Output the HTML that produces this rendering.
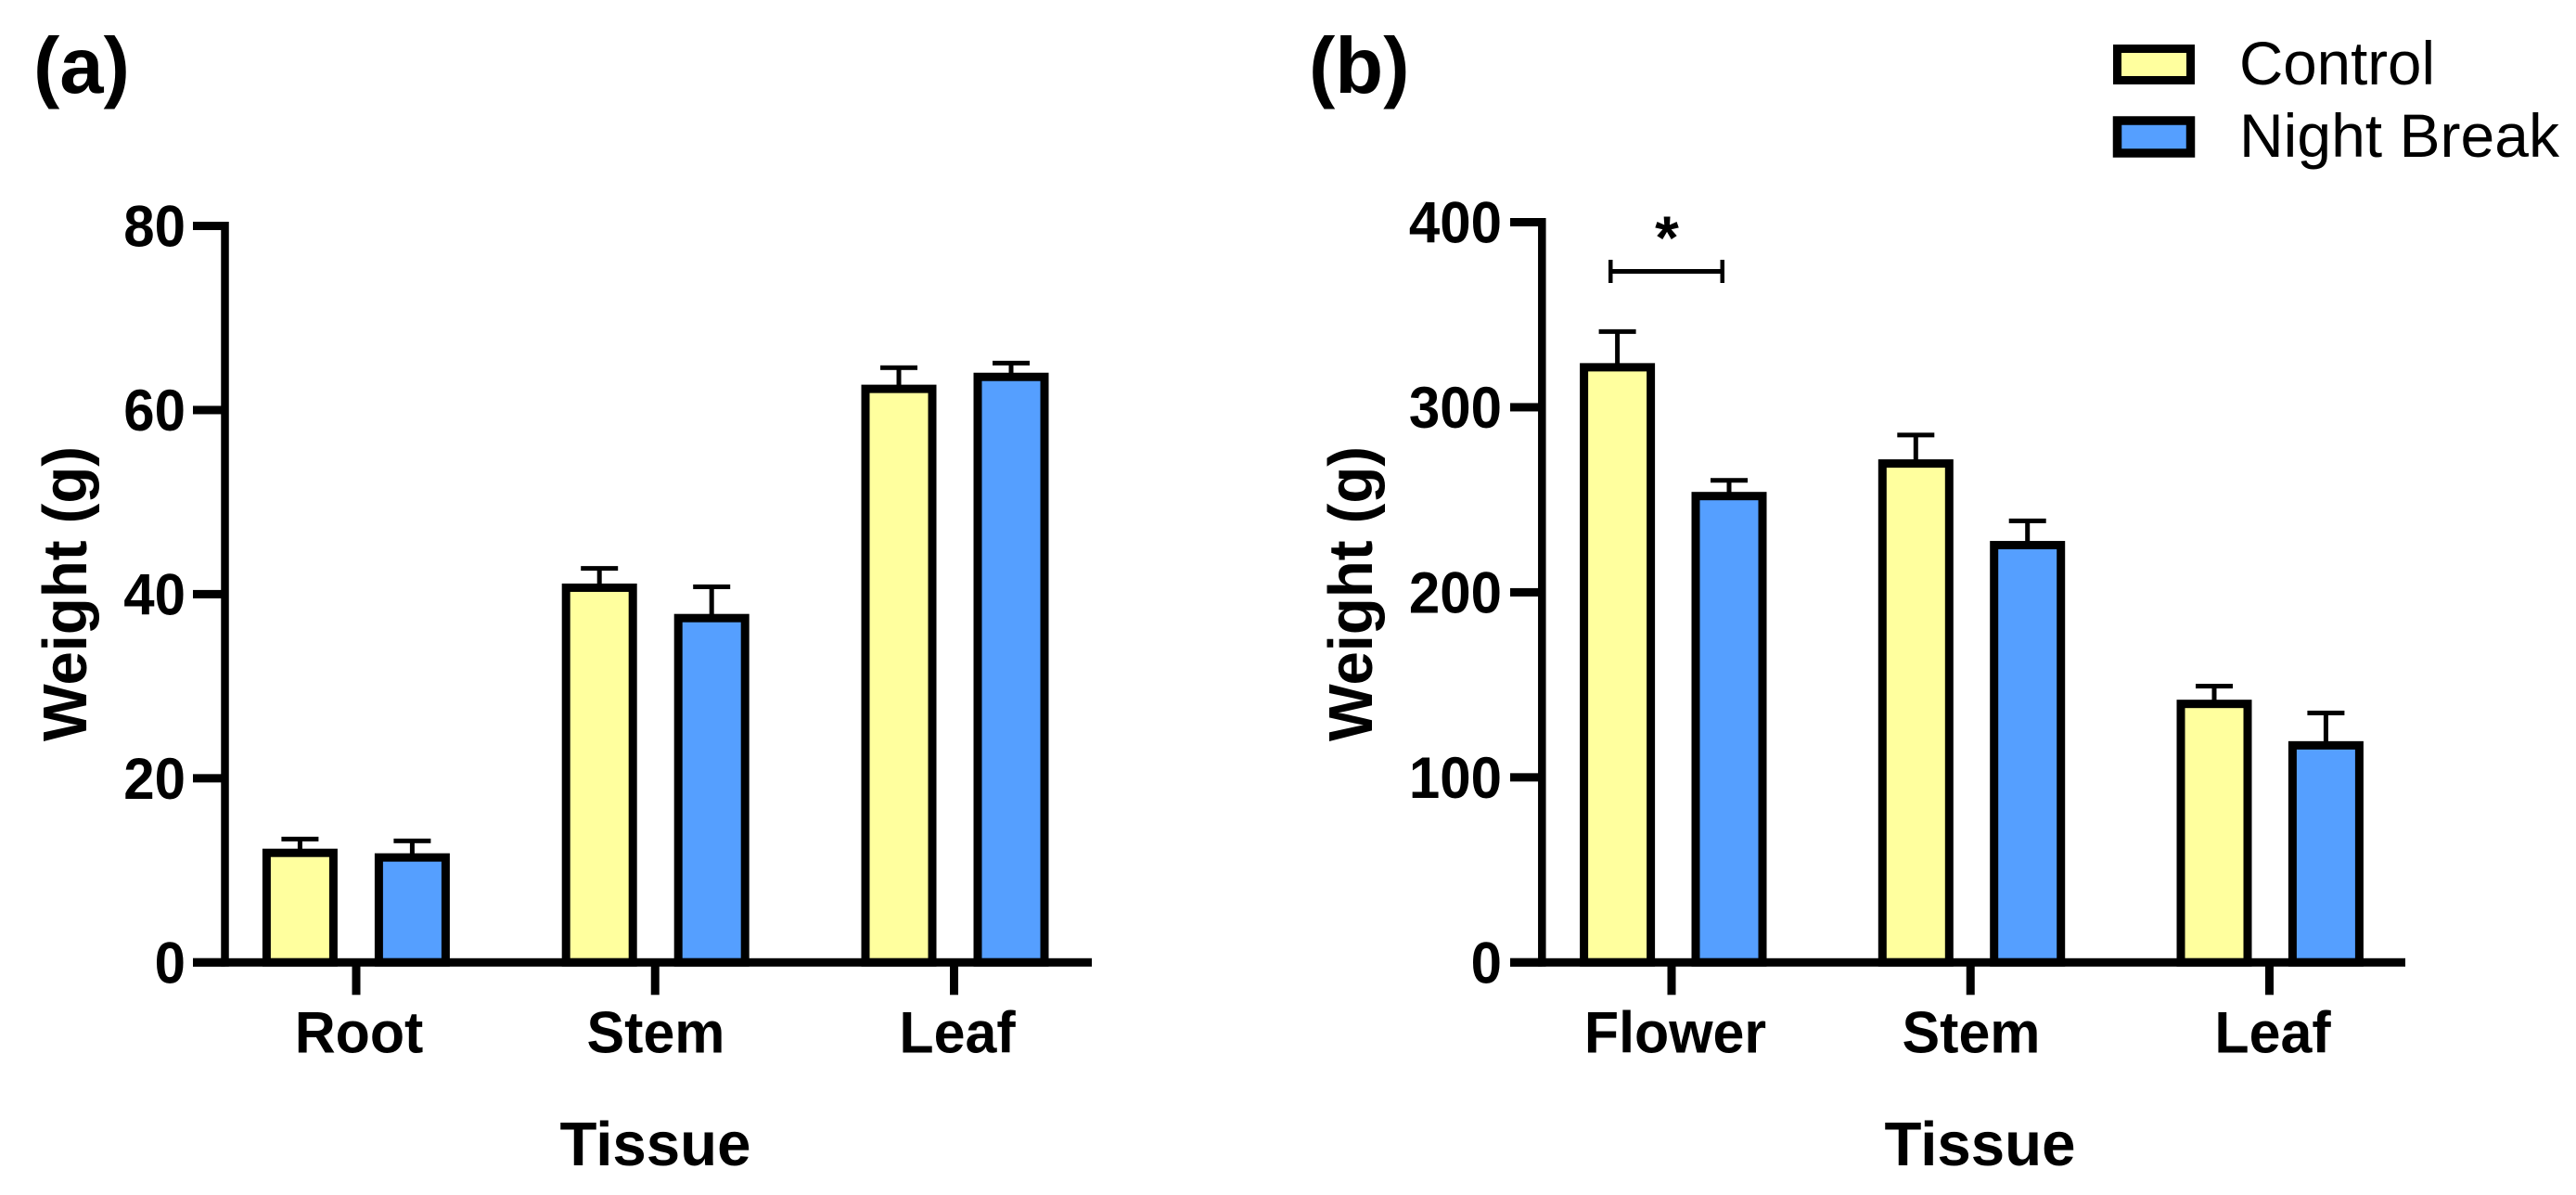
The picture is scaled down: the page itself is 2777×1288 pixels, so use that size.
<!DOCTYPE html>
<html lang="en">
<head>
<meta charset="utf-8">
<title>Weight by tissue: Control vs Night Break</title>
<style>
html,body{margin:0;padding:0;background:#fff;width:2777px;height:1288px;overflow:hidden}
svg{display:block}
text{font-family:"Liberation Sans",Arial,sans-serif;fill:#000}
.b{font-weight:700}
</style>
</head>
<body>
<svg id="figure" xmlns="http://www.w3.org/2000/svg" width="2777" height="1288" viewBox="0 0 2777 1288">
  <rect x="0" y="0" width="2777" height="1288" fill="#fff"/>
  <text class="b" x="36" y="100" font-size="85">(a)</text>
  <text class="b" x="1411" y="100" font-size="85">(b)</text>

  <g id="panelA"></g>
  <g id="panelB"></g>

  <g>
    <g>
      <rect x="2282.5" y="52.5" width="79" height="34" fill="#FFFF9E" stroke="#000" stroke-width="9"/>
      <text x="2414" y="91" font-size="66" textLength="211" lengthAdjust="spacingAndGlyphs">Control</text>
    </g>
    <g>
      <rect x="2282.5" y="130" width="79" height="35" fill="#559FFF" stroke="#000" stroke-width="9.5"/>
      <text x="2414" y="169" font-size="66" textLength="345" lengthAdjust="spacingAndGlyphs">Night Break</text>
    </g>
  </g>

  <g>
    <rect x="1734" y="290" width="125" height="5" fill="#000"/>
    <rect x="1734" y="280" width="4.5" height="25" fill="#000"/>
    <rect x="1854.5" y="280" width="4.5" height="25" fill="#000"/>
    <text class="b" x="1797" y="279" font-size="66" text-anchor="middle">*</text>
  </g>
</svg>
<script>
// Panel (a) data
const categoriesA = ['Root', 'Stem', 'Leaf'];
const controlA = [11.9, 40.7, 62.3];
const nightBreakA = [11.4, 37.4, 63.6];
const controlErrA = [1.5, 2.1, 2.3];
const nightBreakErrA = [1.8, 3.4, 1.5];
const ticksA = [0, 20, 40, 60, 80];

// Panel (b) data
const categoriesB = ['Flower', 'Stem', 'Leaf'];
const controlB = [321.6, 269.6, 139.7];
const nightBreakB = [252, 225.5, 117.3];
const controlErrB = [19.3, 15.4, 9.6];
const nightBreakErrB = [8.5, 13.1, 17.5];
const ticksB = [0, 100, 200, 300, 400];

const NS = 'http://www.w3.org/2000/svg';
const YELLOW = '#FFFF9E';
const BLUE = '#559FFF';
const STROKE = 9;

function make(tag, parent, attrs) {
  const el = document.createElementNS(NS, tag);
  for (const k in attrs) el.setAttribute(k, attrs[k]);
  parent.appendChild(el);
  return el;
}

function drawPanel(root, cfg) {
  const y = function (v) { return cfg.y0 - (v / cfg.yMax) * (cfg.y0 - cfg.yTop); };
  const xBar = function (g, s) { return cfg.barStart + g * cfg.groupStep + s * cfg.barStep; };
  const xTick = function (g) { return cfg.tickStart + g * cfg.tickStep; };
  const series = [
    { name: 'control', vals: cfg.control, errs: cfg.controlErr, fill: YELLOW },
    { name: 'night-break', vals: cfg.nightBreak, errs: cfg.nightBreakErr, fill: BLUE }
  ];

  series.forEach(function (s, si) {
    s.vals.forEach(function (v, g) {
      const cx = xBar(g, si);
      const top = y(v);
      const capY = y(v + s.errs[g]);

      const stem = make('rect', root, { x: cx - 2.5, y: capY, width: 5, height: top - capY, fill: '#000' });
      
      

      const cap = make('rect', root, { x: cx - 20, y: capY - 2.5, width: 40, height: 5, fill: '#000' });
      
      

      const bar = make('rect', root, { x: cx - 36, y: top, width: 72, height: cfg.y0 - top, fill: s.fill, stroke: '#000', 'stroke-width': STROKE });
      
      
    });
  });

  const yAxis = make('rect', root, { x: cfg.axisX - 4.25, y: cfg.yTop - 4.5, width: 8.5, height: cfg.y0 - cfg.yTop + 9, fill: '#000' });
  
  

  const xAxis = make('rect', root, { x: cfg.tickLeft, y: cfg.y0 - 4.5, width: cfg.axisEnd - cfg.tickLeft, height: 9, fill: '#000' });
  
  

  cfg.ticks.forEach(function (t) {
    const tick = make('rect', root, { x: cfg.tickLeft, y: y(t) - 4.5, width: cfg.axisX - cfg.tickLeft, height: 9, fill: '#000' });
    
    

    const label = make('text', root, { x: 0, y: 0, 'font-size': 60, 'text-anchor': 'end', 'class': 'b', transform: 'translate(' + cfg.tickLabelX + ' ' + (y(t) + 22) + ') scale(1 1.05)' });
    label.textContent = String(t);
    
    
  });

  cfg.categories.forEach(function (c, g) {
    const tick = make('rect', root, { x: xTick(g) - 4.5, y: cfg.y0, width: 9, height: 35, fill: '#000' });
    
    

    const label = make('text', root, { x: 0, y: 0, 'font-size': 60, 'text-anchor': 'middle', 'class': 'b', transform: 'translate(' + cfg.catLabelX[g] + ' 1134.5) scale(1.015 1.05)' });
    label.textContent = c;
    
    
  });

  const xTitle = make('text', root, { x: cfg.xTitleX, y: 1256, 'font-size': 67, 'text-anchor': 'middle', 'class': 'b', textLength: 206, lengthAdjust: 'spacingAndGlyphs' });
  xTitle.textContent = 'Tissue';
  
  

  const yTitle = make('text', root, { x: 0, y: 0, 'font-size': 67, 'text-anchor': 'middle', 'class': 'b', textLength: 318, lengthAdjust: 'spacingAndGlyphs', transform: 'translate(' + cfg.yTitleX + ' 640) rotate(-90)' });
  yTitle.textContent = 'Weight (g)';
  
  
}

drawPanel(document.getElementById('panelA'), {
  categories: categoriesA, control: controlA, nightBreak: nightBreakA,
  controlErr: controlErrA, nightBreakErr: nightBreakErrA, ticks: ticksA,
  yMax: 80, y0: 1037.3, yTop: 243.5,
  axisX: 242.5, tickLeft: 208, axisEnd: 1177, tickLabelX: 200,
  barStart: 323.4, groupStep: 322.8, barStep: 121,
  tickStart: 384, tickStep: 322.25,
  catLabelX: [387, 707, 1032], xTitleX: 706.5, yTitleX: 93
});

drawPanel(document.getElementById('panelB'), {
  categories: categoriesB, control: controlB, nightBreak: nightBreakB,
  controlErr: controlErrB, nightBreakErr: nightBreakErrB, ticks: ticksB,
  yMax: 400, y0: 1037.3, yTop: 239.5,
  axisX: 1662.3, tickLeft: 1628, axisEnd: 2593, tickLabelX: 1619,
  barStart: 1743.6, groupStep: 321.7, barStep: 120.4,
  tickStart: 1802, tickStep: 322.25,
  catLabelX: [1806, 2125, 2450], xTitleX: 2134.5, yTitleX: 1479
});
</script>
</body>
</html>
